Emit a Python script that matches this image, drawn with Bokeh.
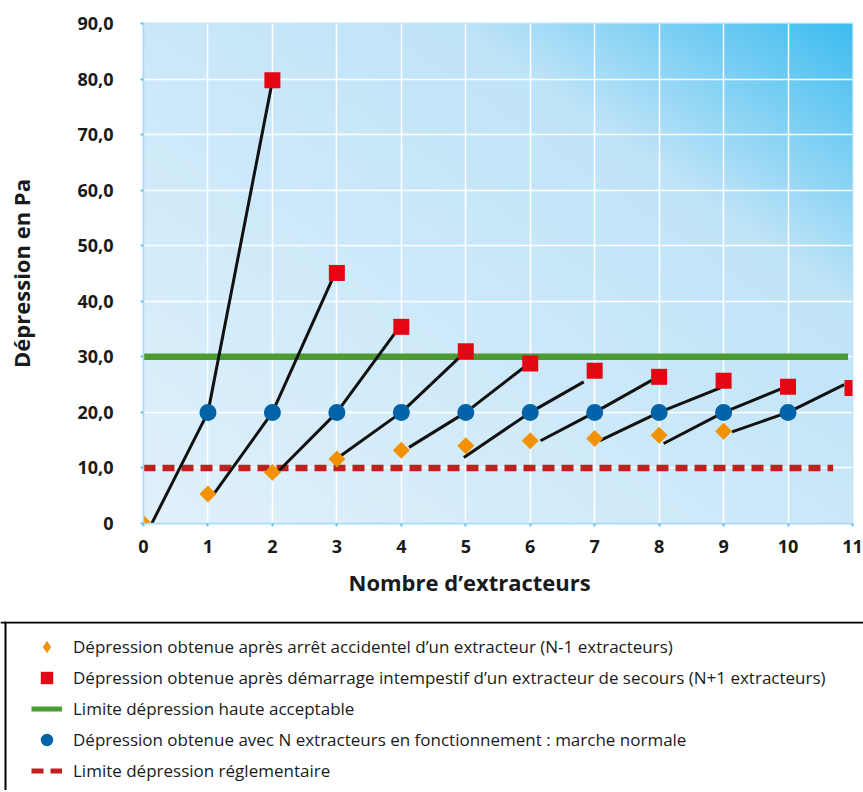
import numpy as np
from bokeh.plotting import figure
from bokeh.models import Range1d, Span, Legend, LegendItem, FixedTicker, Title
from bokeh.layouts import column
from bokeh.embed import file_html
from bokeh.resources import INLINE

# ---------------- data ----------------
x_ticks = [0, 1, 2, 3, 4, 5, 6, 7, 8, 9, 10, 11]
x_tick_labels = ["0", "1", "2", "3", "4", "5", "6", "7", "8", "9", "10", "11"]
y_ticks = [0, 10, 20, 30, 40, 50, 60, 70, 80, 90]
y_tick_labels = ["0", "10,0", "20,0", "30,0", "40,0", "50,0", "60,0", "70,0", "80,0", "90,0"]

# N-1 extracteurs (arrêt accidentel)
x_n_moins_1 = [0, 1, 2, 3, 4, 5, 6, 7, 8, 9]
dep_n_moins_1 = [0.0, 5.3, 9.2, 11.6, 13.2, 14.0, 14.9, 15.3, 15.9, 16.6]
# N extracteurs (marche normale)
x_normale = [1, 2, 3, 4, 5, 6, 7, 8, 9, 10]
dep_normale = [20.0, 20.0, 20.0, 20.0, 20.0, 20.0, 20.0, 20.0, 20.0, 20.0]
# N+1 extracteurs (démarrage intempestif)
x_n_plus_1 = [2, 3, 4, 5, 6, 7, 8, 9, 10, 11]
dep_n_plus_1 = [79.8, 45.1, 35.4, 31.0, 28.8, 27.5, 26.4, 25.7, 24.6, 24.4]

# limits
limite_haute = 30.0
limite_haute_x = [0, 10.93]
limite_regl = 10.0
limite_regl_x = [0, 10.7]

# black connecting lines (start -> normal point -> end)
trait_x0 = [0.08, 1.09, 2.10, 3.06, 4.12, 4.97, 6.16, 7.08, 8.07, 9.13]
trait_y0 = [-1.1, 5.3, 9.5, 12.2, 13.7, 11.9, 14.9, 14.9, 14.4, 16.5]
trait_x1 = [1, 2, 3, 4, 5, 6, 7, 8, 9, 10]
trait_y1 = [20.0, 20.0, 20.0, 20.0, 20.0, 20.0, 20.0, 20.0, 20.0, 20.0]
trait_x2 = [1.98, 2.93, 3.91, 4.91, 5.89, 6.83, 7.89, 8.95, 9.93, 10.87]
trait_y2 = [78.5, 44.0, 34.4, 30.0, 28.0, 25.5, 25.8, 24.4, 24.4, 25.0]

legend_labels = [
    "Dépression obtenue après arrêt accidentel d’un extracteur (N-1 extracteurs)",
    "Dépression obtenue après démarrage intempestif d’un extracteur de secours (N+1 extracteurs)",
    "Limite dépression haute acceptable",
    "Dépression obtenue avec N extracteurs en fonctionnement : marche normale",
    "Limite dépression réglementaire",
]

x_title = "Nombre d’extracteurs"
y_title = "Dépression en Pa"

# ---------------- styles ----------------
FONT = "Open Sans"
ORANGE = "#f39200"
RED = "#e30613"
BLUE = "#0063a7"
GREEN = "#4b9b30"
DRED = "#c0201e"
TXT = "#1a1a1a"
W = 863

p = figure(width=W, height=618, x_range=Range1d(0, 11), y_range=Range1d(0, 90),
           toolbar_location=None, output_backend="svg",
           min_border_left=143, min_border_right=11, min_border_top=23, min_border_bottom=95)
p.frame_align = False
p.background_fill_color = "#d6ecfa"
p.border_fill_color = "white"
p.outline_line_color = "#c4e6f9"
p.outline_line_width = 2

# background gradient (decoration)
Hi, Wi = 250, 355
fy = np.linspace(0, 1, Hi)[:, None]
fx = np.linspace(0, 1, Wi)[None, :]
t = (fx + fy) / 2.0
st = [0.0, 0.72, 1.0]
img = np.empty((Hi, Wi), dtype=np.uint32)
v = img.view(dtype=np.uint8).reshape((Hi, Wi, 4))
v[:, :, 0] = np.interp(t, st, [225, 192, 62]).astype(np.uint8)
v[:, :, 1] = np.interp(t, st, [241, 228, 189]).astype(np.uint8)
v[:, :, 2] = np.interp(t, st, [252, 248, 240]).astype(np.uint8)
v[:, :, 3] = 255
p.image_rgba(image=[img], x=0, y=0, dw=11, dh=90, level="image")

# grid
for g in (p.xgrid, p.ygrid):
    g.grid_line_color = "white"
    g.grid_line_width = 1.5
p.xgrid.ticker = FixedTicker(ticks=x_ticks)
p.ygrid.ticker = FixedTicker(ticks=y_ticks)

# axes
for ax in (p.xaxis, p.yaxis):
    ax.axis_line_color = "#a9dcf6"
    ax.axis_line_width = 1.5
    ax.major_tick_line_color = "#62c3ef"
    ax.major_tick_line_width = 2
    ax.major_tick_out = 3
    ax.major_tick_in = 0
    ax.minor_tick_line_color = None
    ax.major_label_text_font = FONT
    ax.major_label_text_font_style = "bold"
    ax.major_label_text_font_size = "18px"
    ax.major_label_text_color = TXT
p.xaxis.ticker = FixedTicker(ticks=x_ticks)
p.yaxis.ticker = FixedTicker(ticks=y_ticks)
p.xaxis.major_label_overrides = dict(zip(x_ticks, x_tick_labels))
p.yaxis.major_label_overrides = dict(zip(y_ticks, y_tick_labels))
p.xaxis.major_label_standoff = 13
p.yaxis.major_label_standoff = 27

p.yaxis.axis_label = y_title
p.yaxis.axis_label_text_font = FONT
p.yaxis.axis_label_text_font_style = "bold"
p.yaxis.axis_label_text_font_size = "22px"
p.yaxis.axis_label_text_color = TXT
p.yaxis.axis_label_standoff = 38

p.add_layout(Title(text=x_title, align="left", offset=205, standoff=18,
                   text_font=FONT, text_font_style="bold", text_font_size="22px",
                   text_color=TXT), "below")

# limits
r_haute = p.line(limite_haute_x, [limite_haute, limite_haute], line_color=GREEN, line_width=6.5)
r_regl = p.line(limite_regl_x, [limite_regl, limite_regl], line_color=DRED, line_width=6.5,
                line_dash="12 7")

# black lines
xs = [[a, b, c] for a, b, c in zip(trait_x0, trait_x1, trait_x2)]
ys = [[a, b, c] for a, b, c in zip(trait_y0, trait_y1, trait_y2)]
p.multi_line(xs, ys, line_color="#111111", line_width=3)

# markers
r_m1 = p.scatter(x_n_moins_1, dep_n_moins_1, marker="square", angle=np.pi / 4, size=12,
                 fill_color=ORANGE, line_color=None)
r_n = p.scatter(x_normale, dep_normale, marker="circle", size=17, fill_color=BLUE, line_color=None)
r_p1 = p.scatter(x_n_plus_1, dep_n_plus_1, marker="square", size=16, fill_color=RED, line_color=None)

# ---------------- legend panel ----------------
# the legend figure uses pixel-like ranges placed away from the data, so that its
# renderers (same series) only feed the legend and stay out of view
LX0, LY0 = -1000, -1000
LH = 172
lg = figure(width=W, height=LH, x_range=Range1d(LX0, LX0 + W), y_range=Range1d(LY0, LY0 + LH - 3),
            toolbar_location=None, output_backend="svg", x_axis_location=None, y_axis_location=None,
            min_border_top=3, min_border_left=0, min_border_right=0, min_border_bottom=0)
lg.frame_align = False
lg.xgrid.visible = False
lg.ygrid.visible = False
lg.outline_line_color = None
lg.background_fill_color = "white"
lg.border_fill_color = "white"
lg.add_layout(Span(location=LX0 + 5, dimension="height", line_color="black", line_width=2))
lg.add_layout(Span(location=LY0 + LH - 4, dimension="width", line_color="black", line_width=2))

d1 = lg.scatter(x_n_moins_1, dep_n_moins_1, marker="diamond", size=14,
                fill_color=ORANGE, line_color=None)
d2 = lg.scatter(x_n_plus_1, dep_n_plus_1, marker="square", size=14, fill_color=RED, line_color=None)
d3 = lg.line(limite_haute_x, [limite_haute, limite_haute], line_color=GREEN, line_width=5)
d4 = lg.scatter(x_normale, dep_normale, marker="circle", size=15, fill_color=BLUE, line_color=None)
d5 = lg.line(limite_regl_x, [limite_regl, limite_regl], line_color=DRED, line_width=5, line_dash="12 7")
leg = Legend(items=[LegendItem(label=legend_labels[0], renderers=[d1]),
                    LegendItem(label=legend_labels[1], renderers=[d2]),
                    LegendItem(label=legend_labels[2], renderers=[d3]),
                    LegendItem(label=legend_labels[3], renderers=[d4]),
                    LegendItem(label=legend_labels[4], renderers=[d5])],
             location=(31, 4), padding=0, spacing=0, margin=0,
             glyph_width=31, glyph_height=31, label_height=31, label_standoff=11,
             border_line_alpha=0, background_fill_alpha=0,
             label_text_font=FONT, label_text_font_size="17px", label_text_color=TXT)
lg.add_layout(leg)

layout = column(p, lg, spacing=0)
open("out.html", "w").write(file_html(layout, INLINE))
